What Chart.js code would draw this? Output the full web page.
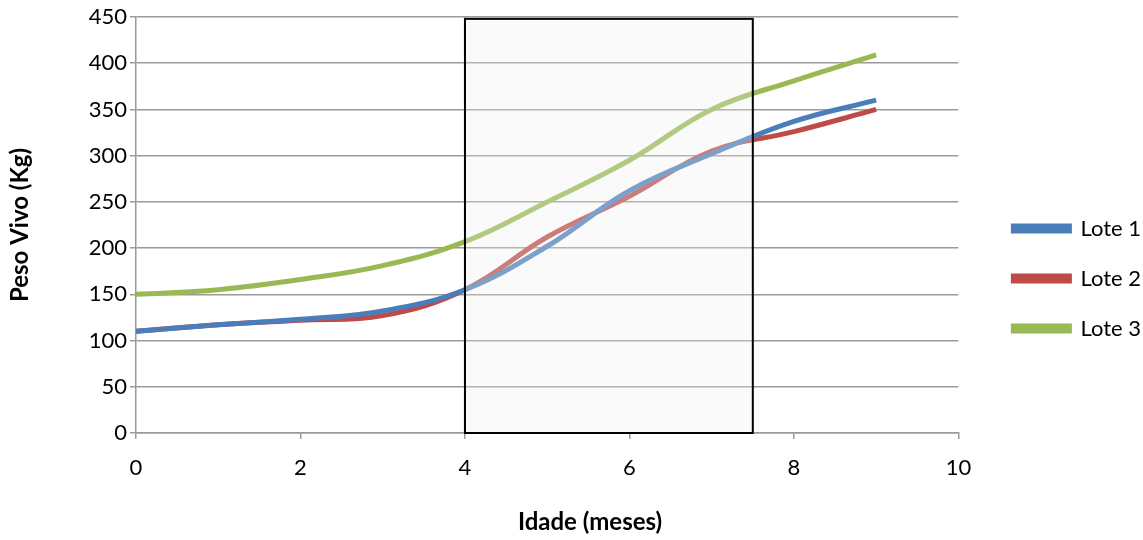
<!DOCTYPE html>
<html>
<head>
<meta charset="utf-8">
<script src="https://cdn.jsdelivr.net/npm/chart.js@4.4.1/dist/chart.umd.min.js"></script>
<style>
  html,body{margin:0;padding:0;background:#fff;}
  #wrap{width:1143px;height:540px;}
</style>
</head>
<body>
<div id="wrap"><canvas id="grafico"></canvas></div>
<script>
// dados
const meses = [0,1,2,3,4,5,6,7,8,9];
const lote1 = [110,117,123,132,155,202,262,302,337,360];
const lote2 = [110,117,122,127,155,212,256,305,326,350];
const lote3 = [150,155,166,181,207,250,295,350,381,409];
const nomes = ["Lote 1","Lote 2","Lote 3"];
const cores = ["#4a7ebb","#be4b48","#98b954"];
const yTicks = [0,50,100,150,200,250,300,350,400,450];
const xTicks = [0,2,4,6,8,10];
// periodo destacado (meses) e topo do retangulo (kg)
const destaque = [4,7.5];
const destaqueTopo = 448;

const fonte = "Lato, 'Open Sans', sans-serif";
const cinza = "#9a9a9a";

const series=[lote1,lote2,lote3].map((s,i)=>({
  label:nomes[i],
  data:s.map((v,k)=>({x:meses[k],y:v})),
  borderColor:cores[i],
  backgroundColor:cores[i],
  borderWidth:5,
  pointRadius:0,
  tension:0.4,
  fill:false
}));

/* retangulo do periodo + titulo do eixo x */
const extras={
  id:"extras",
  afterDatasetsDraw(chart){
    const {ctx,scales:{x,y}}=chart;
    const x0=x.getPixelForValue(destaque[0]);
    const x1=x.getPixelForValue(destaque[1]);
    const y0=y.getPixelForValue(0);
    const y1=y.getPixelForValue(destaqueTopo);
    ctx.save();
    ctx.fillStyle="rgba(240,240,240,0.3)";
    ctx.fillRect(x0,y1,x1-x0,y0-y1);
    ctx.strokeStyle="#000";
    ctx.lineWidth=2;
    ctx.strokeRect(x0,y1,x1-x0,y0-y1);
    ctx.restore();
  },
  afterDraw(chart){
    const {ctx}=chart;
    ctx.save();
    ctx.font="bold 24px "+fonte;
    ctx.fillStyle="#000";
    ctx.textAlign="center";
    ctx.textBaseline="middle";
    ctx.fillText("Idade (meses)",590,522);
    ctx.restore();
  }
};

new Chart(grafico,{
  type:"line",
  data:{datasets:series},
  plugins:[extras],
  options:{
    responsive:true,
    maintainAspectRatio:false,
    animation:false,
    layout:{padding:{top:17,right:-8,left:0,bottom:0}},
    plugins:{
      tooltip:{enabled:false},
      legend:{
        position:"right",
        labels:{
          boxWidth:56,
          boxHeight:5,
          padding:28,
          color:"#000",
          font:{family:fonte,size:22}
        }
      }
    },
    scales:{
      x:{
        type:"linear",
        min:0,max:10,
        afterBuildTicks(s){s.ticks=xTicks.map(v=>({value:v}));},
        afterFit(s){s.height=107;},
        grid:{drawOnChartArea:false,drawTicks:true,tickLength:6,color:cinza,lineWidth:1.5},
        border:{display:true,color:cinza,width:1.5},
        ticks:{color:"#000",padding:16,font:{family:fonte,size:22}}
      },
      y:{
        min:0,max:450,
        afterBuildTicks(s){s.ticks=yTicks.map(v=>({value:v}));},
        afterFit(s){s.width=136;},
        grid:{color:cinza,lineWidth:1.5,tickLength:6},
        border:{display:true,color:cinza,width:1.5},
        ticks:{color:"#000",padding:3,font:{family:fonte,size:22}},
        title:{display:true,text:"Peso Vivo (Kg)",color:"#000",
          font:{family:fonte,size:24,weight:"bold"},padding:{top:6,bottom:0}}
      },
      folga:{
        position:"right",
        display:true,
        afterFit(s){s.width=27;},
        grid:{display:false},
        border:{display:false},
        ticks:{display:false}
      }
    }
  }
});
</script>
</body>
</html>
